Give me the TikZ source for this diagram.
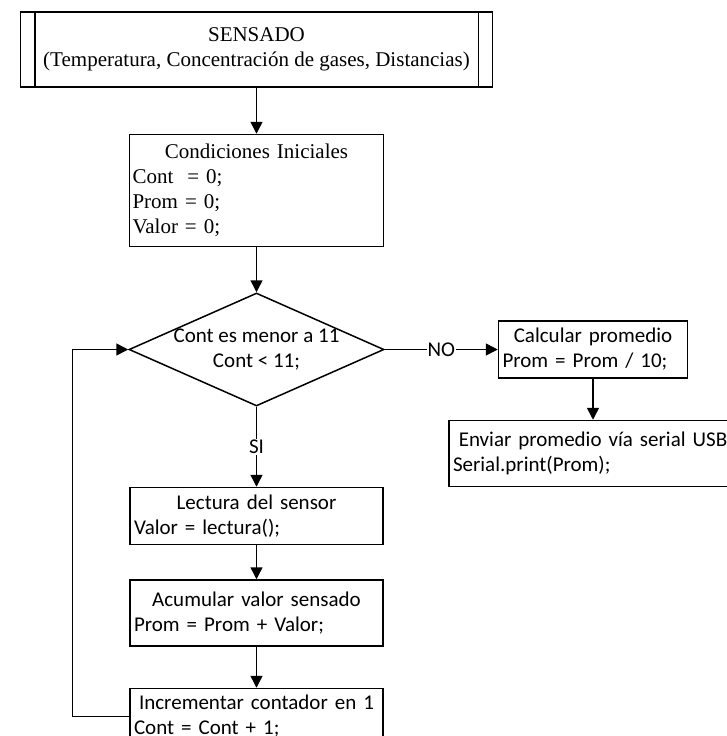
\documentclass[tikz,border=0pt]{standalone}
\usepackage{fontspec}
\setmainfont{Liberation Serif}
\newfontfamily\calibrifont{Carlito}
\usetikzlibrary{arrows.meta,positioning,shapes.geometric}
\tikzset{
  serifbox/.style={
    draw,
    line width=1.5pt,
    inner xsep=3pt,
    align=left,
    font=\fontsize{21}{25}\selectfont
  },
  flowbox/.style={
    draw,
    line width=1.5pt,
    inner xsep=4pt,
    align=left,
    font=\calibrifont\fontsize{21}{25}\selectfont
  },
  decision/.style={
    diamond,
    draw,
    line width=1.5pt,
    inner sep=0pt,
    minimum width=255pt,
    minimum height=113pt
  },
  tag/.style={
    fill=white,
    inner sep=1pt,
    align=center,
    font=\calibrifont\fontsize{21}{25}\selectfont
  },
  plain/.style={line width=1.5pt},
  arrow/.style={
    -{Triangle[length=12pt,width=12pt]},
    line width=1.5pt
  }
}
\newcommand{\midline}[1]{\hfill#1\hfill\null}

\begin{document}
\begin{tikzpicture}[x=1pt,y=1pt]
\useasboundingbox (0,0) rectangle (726,-736);
\node[serifbox, align=center, minimum width=472pt, minimum height=75pt] (sensado) at (256.5,-49.5) {SENSADO\\(Temperatura, Concentración de gases, Distancias)};
\draw[plain] ([xshift=15pt]sensado.north west) -- ([xshift=15pt]sensado.south west);
\draw[plain] ([xshift=-15pt]sensado.north east) -- ([xshift=-15pt]sensado.south east);
\node[serifbox, text width=248pt, minimum height=112pt, below=46pt of sensado] (cond) {\midline{Condiciones Iniciales}\\Cont~ = 0;\\Prom = 0;\\Valor = 0;};
\node[decision, below=45pt of cond, label={[tag, fill=none]center:{Cont es menor a 11\\Cont < 11;}}] (dec) {};
\node[flowbox, text width=245pt, minimum height=57pt, below=80pt of dec] (lectura) {\midline{Lectura del sensor}\\Valor = lectura();};
\node[flowbox, text width=245pt, minimum height=66pt, below=34pt of lectura] (acum) {\midline{Acumular valor sensado}\\Prom = Prom + Valor;};
\node[flowbox, text width=245pt, minimum height=56pt, below=41pt of acum] (incr) {\midline{Incrementar contador en 1}\\Cont = Cont + 1;};
\node[flowbox, text width=181pt, minimum height=57pt, right=113pt of dec] (calc) {\midline{Calcular promedio}\\Prom = Prom / 10;};
\node[flowbox, text width=280pt, minimum height=66pt, below=41pt of calc] (enviar) {\midline{Enviar promedio vía serial USB}\\Serial.print(Prom);};
\draw[arrow] (sensado) -- (cond);
\draw[arrow] (cond) -- (dec);
\draw[arrow] (dec) -- node[tag] {SI} (lectura);
\draw[arrow] (dec) -- node[tag] {NO} (calc);
\draw[arrow] (calc) -- (enviar);
\draw[arrow] (lectura) -- (acum);
\draw[arrow] (acum) -- (incr);
\draw[arrow] (incr.west) -- ++(-57,0) |- (dec.west);
\end{tikzpicture}
\end{document}
